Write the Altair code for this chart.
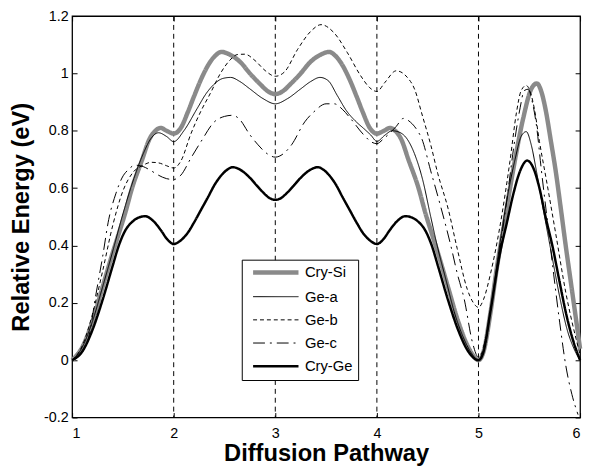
import altair as alt
import pandas as pd

series_names = ["Cry-Si", "Ge-a", "Ge-b", "Ge-c", "Cry-Ge"]

x_crysi = [1.0, 1.1, 1.2, 1.3, 1.4, 1.46, 1.52, 1.59, 1.69, 1.76, 1.82, 1.87, 1.93, 2.0,
           2.07, 2.14, 2.2, 2.27, 2.35, 2.41, 2.47, 2.55, 2.66, 2.75, 2.85, 2.93, 3.0,
           3.07, 3.15, 3.25, 3.34, 3.45, 3.53, 3.59, 3.65, 3.73, 3.8, 3.86, 3.93, 4.0,
           4.07, 4.13, 4.18, 4.24, 4.31, 4.41, 4.48, 4.54, 4.6, 4.7, 4.8, 4.9, 4.95, 5.0,
           5.05, 5.12, 5.18, 5.25, 5.34, 5.44, 5.52, 5.575, 5.62, 5.665, 5.71, 5.76, 5.81,
           5.86, 5.91, 5.96, 6.0]
y_crysi = [0.0, 0.045, 0.135, 0.255, 0.375, 0.442, 0.51, 0.60, 0.70, 0.77, 0.80, 0.81, 0.80, 0.79,
           0.81, 0.866, 0.92, 0.98, 1.035, 1.062, 1.075, 1.066, 1.038, 1.0, 0.963, 0.937, 0.928,
           0.937, 0.963, 1.0, 1.038, 1.066, 1.075, 1.062, 1.035, 0.98, 0.92, 0.866, 0.81, 0.79,
           0.80, 0.81, 0.80, 0.77, 0.70, 0.60, 0.51, 0.442, 0.375, 0.255, 0.135, 0.045, 0.015, 0.0,
           0.03, 0.17, 0.32, 0.47, 0.66, 0.843, 0.946, 0.965, 0.935, 0.866, 0.77, 0.66, 0.53,
           0.396, 0.27, 0.143, 0.04]

x_gea = [1.0, 1.1, 1.2, 1.3, 1.4, 1.5, 1.6, 1.7, 1.78, 1.85, 1.93, 2.0,
         2.1, 2.23, 2.32, 2.4, 2.48, 2.56, 2.65, 2.75, 2.88, 3.0,
         3.12, 3.25, 3.35, 3.44, 3.52, 3.61, 3.7, 3.8, 3.87, 3.94, 4.0,
         4.08, 4.15, 4.22, 4.3, 4.37, 4.45, 4.53, 4.6, 4.68, 4.76, 4.85, 4.93, 5.0,
         5.06, 5.13, 5.2, 5.28, 5.36, 5.42, 5.47, 5.52, 5.57, 5.62, 5.67, 5.73, 5.8,
         5.87, 5.94, 6.0]
y_gea = [0.0, 0.045, 0.135, 0.255, 0.38, 0.51, 0.625, 0.72, 0.775, 0.793, 0.78, 0.762,
         0.80, 0.877, 0.93, 0.963, 0.982, 0.986, 0.972, 0.946, 0.912, 0.894,
         0.912, 0.946, 0.972, 0.986, 0.975, 0.923, 0.87, 0.83, 0.808, 0.785, 0.763,
         0.785, 0.80, 0.795, 0.77, 0.72, 0.63, 0.50, 0.39, 0.28, 0.17, 0.08, 0.025, 0.0,
         0.05, 0.2, 0.38, 0.56, 0.70, 0.78, 0.797, 0.75, 0.66, 0.56, 0.464, 0.35, 0.22,
         0.11, 0.04, 0.0]

x_geb = [1.0, 1.1, 1.2, 1.3, 1.4, 1.5, 1.6, 1.7, 1.78, 1.85, 1.93, 2.0,
         2.07, 2.17, 2.27, 2.36, 2.46, 2.55, 2.63, 2.7, 2.8, 2.9, 3.0,
         3.09, 3.22, 3.35, 3.45, 3.58, 3.71, 3.84, 3.93, 4.0,
         4.08, 4.19, 4.3, 4.37, 4.45, 4.53, 4.6, 4.7, 4.79, 4.89, 4.95, 5.0,
         5.05, 5.12, 5.21, 5.31, 5.375, 5.42, 5.47, 5.51, 5.55, 5.6, 5.67, 5.76,
         5.86, 5.96, 6.0]
y_geb = [0.0, 0.05, 0.16, 0.31, 0.47, 0.59, 0.655, 0.68, 0.69, 0.688, 0.678, 0.67,
         0.694, 0.79, 0.87, 0.93, 1.0, 1.045, 1.066, 1.067, 1.045, 1.01, 0.99,
         1.005, 1.084, 1.147, 1.17, 1.141, 1.072, 0.992, 0.95, 0.937,
         0.969, 1.009, 0.986, 0.946, 0.85, 0.751, 0.65, 0.53, 0.39, 0.247, 0.2, 0.184,
         0.212, 0.304, 0.464, 0.694, 0.866, 0.94, 0.958, 0.935, 0.877, 0.763, 0.625, 0.442,
         0.235, 0.075, 0.02]

x_gec = [1.0, 1.08, 1.17, 1.23, 1.3, 1.36, 1.43, 1.49, 1.555, 1.62, 1.7, 1.78, 1.85, 1.93, 2.0,
         2.07, 2.17, 2.27, 2.4, 2.5, 2.58, 2.64, 2.75, 2.83, 2.92, 3.0,
         3.08, 3.16, 3.29, 3.38, 3.5, 3.58, 3.66, 3.74, 3.87, 3.95, 4.0,
         4.06, 4.11, 4.19, 4.26, 4.33, 4.4, 4.44, 4.53, 4.63, 4.73, 4.79, 4.86, 4.94, 5.0,
         5.06, 5.13, 5.2, 5.28, 5.35, 5.41, 5.45, 5.49, 5.53, 5.57, 5.62, 5.68, 5.74,
         5.8, 5.86, 5.92, 5.98]
y_gec = [0.0, 0.02, 0.09, 0.22, 0.36, 0.49, 0.58, 0.635, 0.665, 0.68, 0.675, 0.66, 0.645, 0.633, 0.63,
         0.645, 0.705, 0.763, 0.831, 0.85, 0.854, 0.843, 0.786, 0.751, 0.72, 0.708,
         0.72, 0.751, 0.831, 0.866, 0.894, 0.894, 0.875, 0.843, 0.786, 0.76, 0.755,
         0.77, 0.786, 0.815, 0.843, 0.83, 0.80, 0.774, 0.66, 0.533, 0.396, 0.304, 0.212, 0.063, 0.01,
         0.06, 0.2, 0.36, 0.56, 0.75, 0.88, 0.94, 0.945, 0.90, 0.82, 0.66, 0.48, 0.30,
         0.13, -0.02, -0.12, -0.19]

x_cryge = [1.0, 1.1, 1.2, 1.3, 1.4, 1.46, 1.52, 1.6, 1.66, 1.72, 1.8, 1.87, 1.94, 2.0,
           2.06, 2.14, 2.2, 2.27, 2.34, 2.4, 2.47, 2.53, 2.58, 2.65, 2.75, 2.82, 2.88, 2.94, 3.0,
           3.06, 3.12, 3.18, 3.25, 3.35, 3.42, 3.47, 3.53, 3.6, 3.66, 3.73, 3.8, 3.86, 3.94, 4.0,
           4.06, 4.13, 4.2, 4.28, 4.34, 4.4, 4.48, 4.54, 4.6, 4.7, 4.8, 4.9, 5.0,
           5.05, 5.12, 5.21, 5.28, 5.34, 5.41, 5.48, 5.54, 5.6, 5.66, 5.73, 5.8, 5.86, 5.93, 6.0]
y_cryge = [0.0, 0.03, 0.105, 0.21, 0.33, 0.40, 0.45, 0.485, 0.498, 0.502, 0.485, 0.455, 0.42, 0.405,
           0.415, 0.445, 0.48, 0.525, 0.57, 0.61, 0.645, 0.665, 0.673, 0.665, 0.636, 0.608, 0.585, 0.566, 0.559,
           0.566, 0.585, 0.608, 0.636, 0.665, 0.673, 0.665, 0.645, 0.61, 0.57, 0.525, 0.48, 0.445, 0.415, 0.405,
           0.42, 0.455, 0.485, 0.502, 0.498, 0.485, 0.45, 0.40, 0.33, 0.21, 0.105, 0.03, 0.0,
           0.03, 0.175, 0.37, 0.48, 0.575, 0.66, 0.696, 0.67, 0.60, 0.50, 0.395, 0.27, 0.166, 0.07, 0.0]

grid_x = [2, 3, 4, 5]
x_ticks = [1, 2, 3, 4, 5, 6]
y_ticks = [-0.2, 0, 0.2, 0.4, 0.6, 0.8, 1, 1.2]

rows = []
for name, xs, ys in [("Cry-Si", x_crysi, y_crysi), ("Ge-a", x_gea, y_gea),
                     ("Ge-b", x_geb, y_geb), ("Ge-c", x_gec, y_gec),
                     ("Cry-Ge", x_cryge, y_cryge)]:
    for xv, yv in zip(xs, ys):
        rows.append({"x": xv, "y": yv, "series": name})
df = pd.DataFrame(rows)

FONT = "Liberation Sans"
xscale = alt.Scale(domain=[1, 6], nice=False, zero=False)
yscale = alt.Scale(domain=[-0.2, 1.2], nice=False, zero=False)

color_scale = alt.Scale(domain=series_names,
                        range=["#8a8a8a", "black", "black", "black", "black"])
dash_scale = alt.Scale(domain=series_names,
                       range=[[1, 0], [1, 0], [4, 3], [12, 5, 2, 5], [1, 0]])

legend = alt.Legend(
    orient="none", legendX=172, legendY=247, title=None,
    symbolType="M-1,0H6.67", symbolSize=144, labelFont=FONT,
    labelFontSize=15, labelColor="black", padding=5.5,
    rowPadding=7.5, symbolOffset=4.5, labelOffset=39,
    strokeColor="black", fillColor="white",
    symbolStrokeWidth={"expr": "datum.value == 'Cry-Si' ? 4.5 : (datum.value == 'Cry-Ge' ? 2.5 : 1)"},
)

xaxis_main = alt.Axis(values=x_ticks, format="d", tickSize=5, offset=-5,
                      domain=False, grid=False, labelPadding=9,
                      title="Diffusion Pathway", titleFontSize=24,
                      titleFontWeight="bold", titlePadding=2)
yaxis_main = alt.Axis(values=y_ticks, tickSize=5, offset=-5, domain=False,
                      grid=False, labelPadding=4,
                      labelExpr="datum.value < 0 ? '-' + format(-datum.value, '~g') : format(datum.value, '~g')",
                      title="Relative Energy (eV)", titleFontSize=24,
                      titleFontWeight="bold", titlePadding=10)


def line_layer(names, width, with_axes):
    data = df[df["series"].isin(names)]
    if with_axes:
        xenc = alt.X("x:Q", scale=xscale, axis=xaxis_main)
        yenc = alt.Y("y:Q", scale=yscale, axis=yaxis_main)
    else:
        xenc = alt.X("x:Q", scale=xscale, axis=None)
        yenc = alt.Y("y:Q", scale=yscale, axis=None)
    return alt.Chart(data).mark_line(interpolate="monotone", strokeWidth=width).encode(
        x=xenc, y=yenc,
        color=alt.Color("series:N", scale=color_scale, legend=legend),
        strokeDash=alt.StrokeDash("series:N", scale=dash_scale, legend=legend),
        detail="series:N",
    )


rules = alt.Chart(pd.DataFrame({"gx": grid_x})).mark_rule(
    color="black", strokeWidth=1, strokeDash=[5, 4]
).encode(x=alt.X("gx:Q", scale=xscale, axis=None))

grey = line_layer(["Cry-Si"], 4.5, True)
thin = line_layer(["Ge-a", "Ge-b", "Ge-c"], 1, False)
cryge = line_layer(["Cry-Ge"], 2.5, False)

frame = alt.Chart(df).mark_point(opacity=0, size=1).encode(
    x=alt.X("x:Q", scale=xscale,
            axis=alt.Axis(orient="top", values=x_ticks, labels=False, tickSize=5,
                          offset=-5, domain=False, grid=False, title="")),
    y=alt.Y("y:Q", scale=yscale,
            axis=alt.Axis(orient="right", values=y_ticks, labels=False, tickSize=5,
                          offset=-5, domain=False, grid=False, title="")),
)

chart = alt.layer(rules, grey, thin, cryge, frame).resolve_axis(
    x="independent", y="independent"
).properties(
    width=515, height=407,
    padding={"left": 65, "top": 5, "right": 5, "bottom": 46},
    autosize=alt.AutoSizeParams(type="none"),
).configure_view(
    stroke="black", strokeWidth=1.3
).configure_axis(
    labelFont=FONT, titleFont=FONT, labelFontSize=14.5, labelColor="black",
    titleColor="black", tickColor="black", tickWidth=1
)

chart.save("out.html", embed_options={"renderer": "svg", "actions": False})
